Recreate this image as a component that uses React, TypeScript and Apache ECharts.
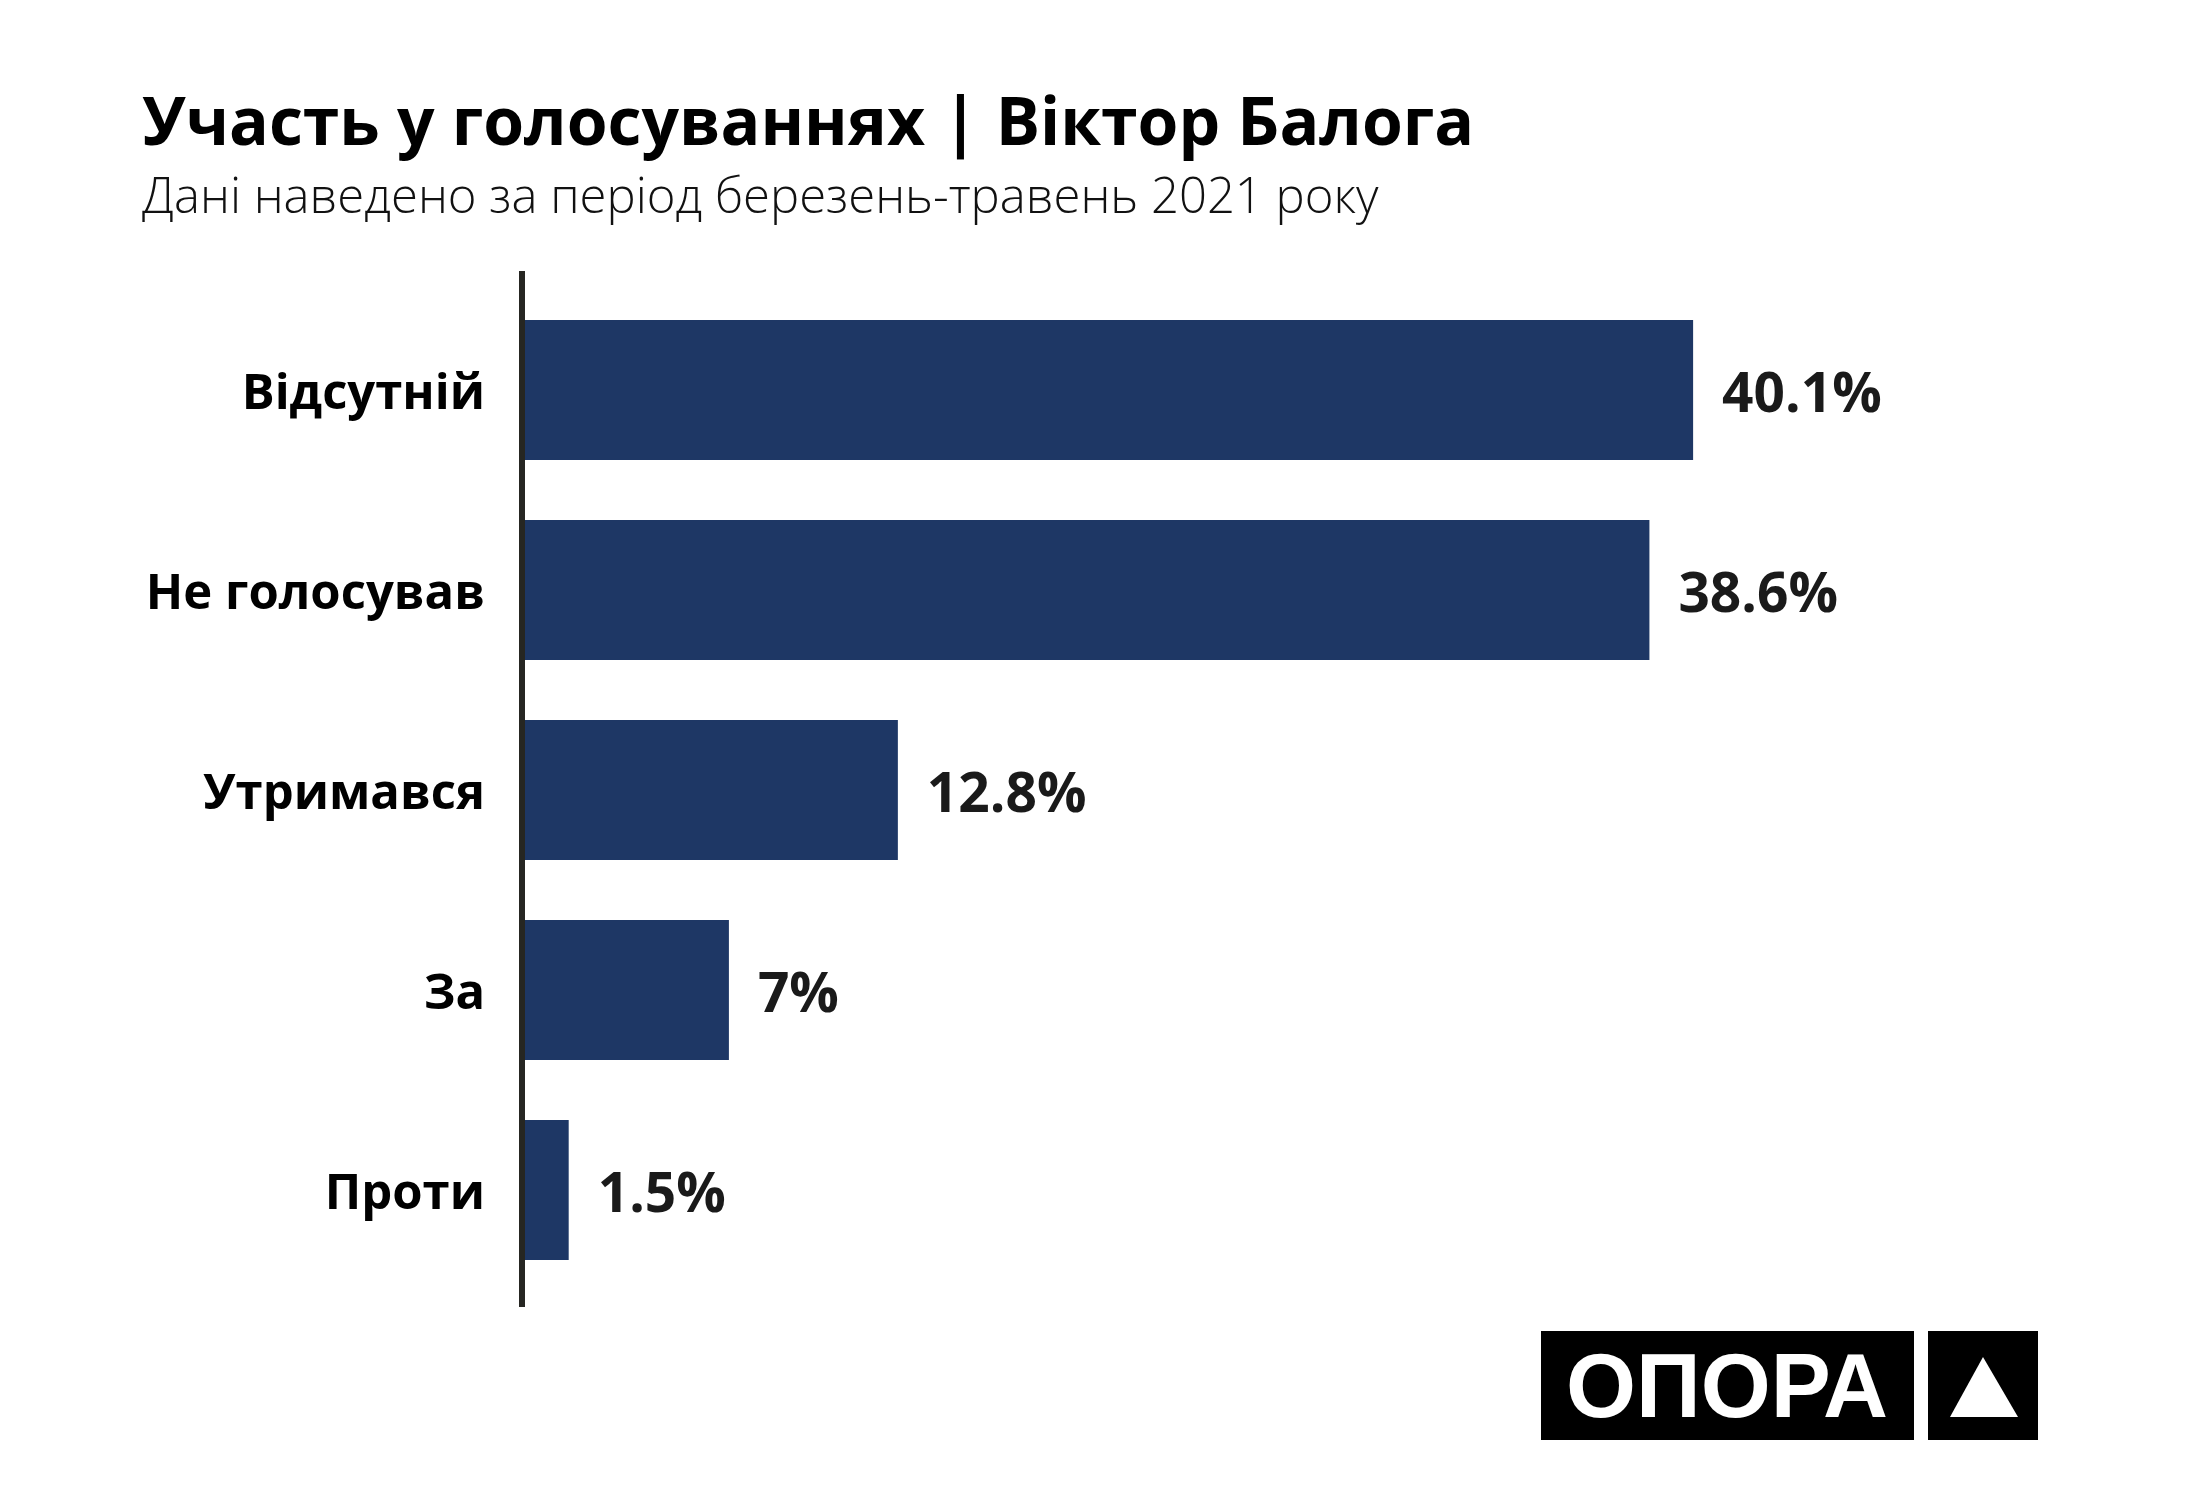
import React, { useEffect, useRef } from "react";
import * as echarts from "echarts";

const categories = ["Відсутній", "Не голосував", "Утримався", "За", "Проти"];
const values = [40.1, 38.6, 12.8, 7, 1.5];
const valueLabels = ["40.1%", "38.6%", "12.8%", "7%", "1.5%"];
const titleText = "Участь у голосуваннях | Віктор Балога";
const subtitleText = "Дані наведено за період березень-травень 2021 року";
const logoText = "ОПОРА";

export default function App() {
  const ref = useRef<HTMLDivElement>(null);
  useEffect(() => {
    if (!ref.current) return;
    const chart = echarts.init(ref.current, undefined, { renderer: "svg" });
    const font = "'Open Sans', 'Noto Sans', sans-serif";
    chart.setOption({
      animation: false,
      backgroundColor: "#ffffff",
      title: [
        {
          text: titleText,
          left: 137,
          top: 81,
          textStyle: {
            fontFamily: font,
            fontWeight: "bold",
            fontSize: 66,
            lineHeight: 66,
            color: "#000000",
          },
        },
        {
          text: subtitleText,
          left: 137,
          top: 164,
          textStyle: {
            fontFamily: font,
            fontWeight: 300,
            fontSize: 49,
            lineHeight: 49,
            color: "#111111",
          },
        },
      ],
      grid: { left: 525, top: 290, width: 1456.5, height: 1000, containLabel: false },
      xAxis: {
        type: "value",
        min: 0,
        max: 50,
        show: false,
      },
      yAxis: {
        type: "category",
        data: categories,
        inverse: true,
        axisLine: { show: false },
        axisTick: { show: false },
        splitLine: { show: false },
        axisLabel: {
          margin: 40,
          fontFamily: font,
          fontWeight: "bold",
          fontSize: 49,
          color: "#000000",
        },
      },
      series: [
        {
          type: "bar",
          data: values,
          barWidth: 140,
          itemStyle: { color: "#1e3765" },
          label: {
            show: true,
            position: "right",
            distance: 29,
            formatter: (p: any) => valueLabels[p.dataIndex],
            fontFamily: font,
            fontWeight: "bold",
            fontSize: 55,
            color: "#1a1a1a",
          },
        },
      ],
      graphic: [
        {
          type: "line",
          shape: { x1: 522, y1: 271, x2: 522, y2: 1307 },
          style: { stroke: "#262622", lineWidth: 6 },
          z: 10,
        },
        {
          type: "rect",
          shape: { x: 1541, y: 1331, width: 373, height: 109 },
          style: { fill: "#000000" },
        },
        {
          type: "text",
          x: 1727,
          y: 1386,
          style: {
            text: logoText,
            fill: "#ffffff",
            font: "bold 90px 'Liberation Sans', Arial, sans-serif",
            textAlign: "center",
            textVerticalAlign: "middle",
          },
        },
        {
          type: "rect",
          shape: { x: 1928, y: 1331, width: 110, height: 109 },
          style: { fill: "#000000" },
        },
        {
          type: "polygon",
          shape: {
            points: [
              [1983, 1357],
              [2018, 1417],
              [1950, 1417],
            ],
          },
          style: { fill: "#ffffff" },
        },
      ],
    });
    return () => chart.dispose();
  }, []);
  return (
    <div
      ref={ref}
      style={{ position: "absolute", left: 0, top: 0, width: 2200, height: 1500, background: "#fff" }}
    />
  );
}
